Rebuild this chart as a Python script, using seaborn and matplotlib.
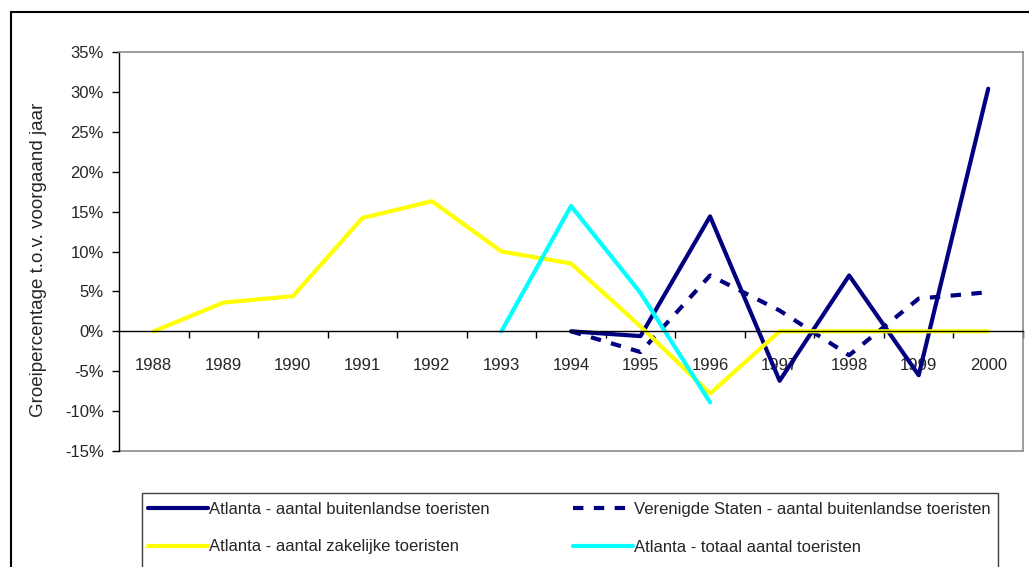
import numpy as np
import pandas as pd
import matplotlib
matplotlib.use("Agg")
import matplotlib.pyplot as plt
import seaborn as sns

# groei t.o.v. voorgaand jaar, in procenten
jaren = [1988, 1989, 1990, 1991, 1992, 1993, 1994, 1995, 1996, 1997, 1998, 1999, 2000]
atl_buitenland = [np.nan, np.nan, np.nan, np.nan, np.nan, np.nan, 0.0, -0.6, 14.4, -6.2, 7.0, -5.5, 30.4]
vs_buitenland = [np.nan, np.nan, np.nan, np.nan, np.nan, np.nan, 0.0, -2.6, 7.0, 2.6, -3.0, 4.1, 4.9]
atl_zakelijk = [0.0, 3.6, 4.4, 14.2, 16.3, 10.0, 8.5, 0.6, -7.8, 0.0, 0.0, 0.0, 0.0]
atl_totaal = [np.nan, np.nan, np.nan, np.nan, np.nan, 0.0, 15.7, 4.8, -8.9, np.nan, np.nan, np.nan, np.nan]

reeksen = [
    ("Atlanta - aantal buitenlandse toeristen", atl_buitenland, "#000080", "-"),
    ("Verenigde Staten - aantal buitenlandse toeristen", vs_buitenland, "#000080", (0, (2.5, 2.5))),
    ("Atlanta - aantal zakelijke toeristen", atl_zakelijk, "#FFFF00", "-"),
    ("Atlanta - totaal aantal toeristen", atl_totaal, "#00FFFF", "-"),
]

sns.set_style("white")
plt.rcParams['font.family'] = ['Liberation Sans', 'DejaVu Sans']
fs = 12

W, H = 1029, 567
fig = plt.figure(figsize=(W / 100, H / 100), dpi=100)
ax = fig.add_axes([119 / W, 1 - 451 / H, (1023 - 119) / W, (451 - 52) / H])

for naam, waarden, kleur, stijl in reeksen:
    df = pd.DataFrame({"jaar": jaren, "groei": waarden}).dropna()
    sns.lineplot(data=df, x="jaar", y="groei", color=kleur, linewidth=3,
                 linestyle=stijl, label=naam, ax=ax, legend=False)

ax.set_xlim(1987.5, 2000.5)
ax.set_ylim(-15, 35)
ax.set_yticks(range(-15, 36, 5))
ax.set_yticklabels([f"{v}%" for v in range(-15, 36, 5)])
ax.set_xticks(jaren)
ax.set_xticklabels([str(j) for j in jaren])
ax.set_xticks([j + 0.5 for j in jaren], minor=True)
ax.tick_params(axis="x", which="major", length=0, pad=19, labelsize=fs)
ax.tick_params(axis="x", which="minor", length=5, width=1, direction="out", color="black", bottom=True)
ax.tick_params(axis="y", length=5, width=1, direction="out", color="black", left=True, pad=6, labelsize=fs)

# x-as op 0%, grijze rand om het plotvlak
ax.spines["bottom"].set_position(("data", 0))
ax.spines["bottom"].set_color("black")
ax.spines["bottom"].set_linewidth(1)
ax.spines["left"].set_color("black")
ax.spines["left"].set_linewidth(1)
for s in ["top", "right"]:
    ax.spines[s].set_color("#8c8c8c")
    ax.spines[s].set_linewidth(1.2)
ax.axhline(-15, color="#8c8c8c", lw=1.2, clip_on=False, zorder=0)

ax.set_xlabel("")
ax.set_ylabel("Groeipercentage t.o.v. voorgaand jaar", fontsize=13.5)
ax.yaxis.set_label_coords(-0.0796, 0.479)

# legenda, rij voor rij gevuld
h, l = ax.get_legend_handles_labels()
volgorde = [0, 2, 1, 3]
ax.legend([h[i] for i in volgorde], [l[i] for i in volgorde],
          loc="upper left", bbox_to_anchor=(148 / W, 1 - 502 / H),
          bbox_transform=fig.transFigure, ncol=2, frameon=False,
          fontsize=fs, handlelength=3.6, handletextpad=0.05,
          columnspacing=5.0, labelspacing=1.35, borderpad=0, borderaxespad=0)
fig.add_artist(plt.Rectangle((142 / W, -0.1), (998 - 142) / W, (567 - 493) / H + 0.1,
                             transform=fig.transFigure, fill=False, ec="#404040", lw=1))

# rand om de figuur
fig.add_artist(plt.Rectangle((11 / W, -0.1), 1.5, (567 - 12) / H + 0.1,
                             transform=fig.transFigure, fill=False, ec="black", lw=1.5))

fig.savefig("out.png", dpi=100)
